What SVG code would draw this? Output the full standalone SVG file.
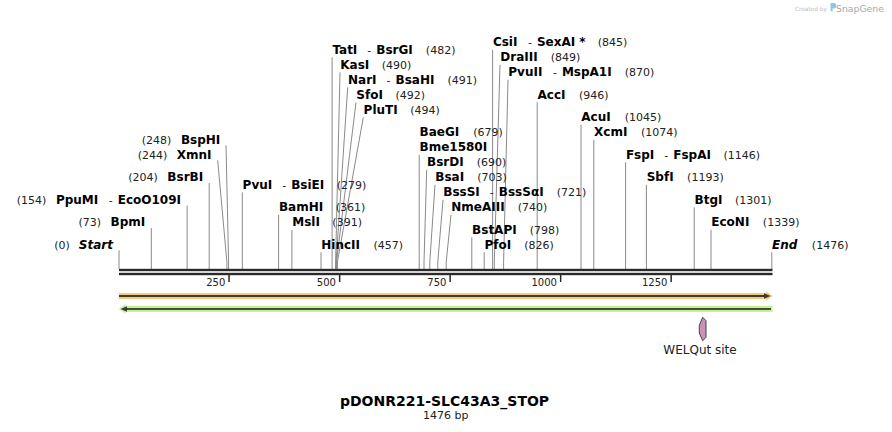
<svg xmlns="http://www.w3.org/2000/svg" width="892" height="432" viewBox="0 0 892 432">
<style>
.b{font-family:"DejaVu Sans",Verdana,sans-serif;font-weight:bold;font-size:12px;fill:#000}
.bi{font-family:"DejaVu Sans",Verdana,sans-serif;font-weight:bold;font-style:italic;font-size:12px;fill:#000}
.n{font-family:"DejaVu Sans",Verdana,sans-serif;font-weight:normal;font-size:11px;fill:#222}
.tk{font-family:"DejaVu Sans",Verdana,sans-serif;font-size:10px;fill:#222}
.ln{stroke:#8a8a8a;stroke-width:1;fill:none}
.dk{fill:#2a2a2a}
</style>
<rect width="892" height="432" fill="#fff"/>

<g id="watermark">
<text x="795" y="11" font-family="DejaVu Sans,sans-serif" font-size="5.8" fill="#bdbdbd">Created by</text>
<path d="M830.5,3 h3 a2.6,2.6 0 0 1 0,5.5 h-1 v3.5 l-2,-1.5 z" fill="#8ec3ea"/>
<text x="836" y="11.5" font-family="DejaVu Sans,sans-serif" font-size="9.3" fill="#a8a8a8">SnapGene</text>
</g>

<g id="connectors">
<polyline class="ln" points="119,250.3 119,269"/>
<polyline class="ln" points="151.3,228 151.3,269"/>
<polyline class="ln" points="187.1,205.5 187.1,269"/>
<polyline class="ln" points="209.2,183 209.2,269"/>
<polyline class="ln" points="217.7,160.3 226.9,262 226.9,269"/>
<polyline class="ln" points="226,145.3 228.6,262 228.6,269"/>
<polyline class="ln" points="242.3,192.3 242.3,269"/>
<polyline class="ln" points="278.6,214.8 278.6,269"/>
<polyline class="ln" points="291.9,229.8 291.9,269"/>
<polyline class="ln" points="321,252.3 321,269"/>
<polyline class="ln" points="332.1,57.3 332.1,269"/>
<polyline class="ln" points="340,72.3 335.6,262 335.6,269"/>
<polyline class="ln" points="347.7,87.3 336.1,262 336.1,269"/>
<polyline class="ln" points="356,102.3 336.5,262 336.5,269"/>
<polyline class="ln" points="363.3,117.3 337.4,262 337.4,269"/>
<polyline class="ln" points="419.2,154.8 419.2,269"/>
<polyline class="ln" points="426.7,169.8 424,262 424,269"/>
<polyline class="ln" points="435,184.8 429.8,262 429.8,269"/>
<polyline class="ln" points="443,199.8 437.8,262 437.8,269"/>
<polyline class="ln" points="451,214.8 446.2,262 446.2,269"/>
<polyline class="ln" points="471.8,237.3 471.8,269"/>
<polyline class="ln" points="484.2,252.3 484.2,269"/>
<polyline class="ln" points="492.6,49.8 492.6,269"/>
<polyline class="ln" points="500,64.8 494.3,262 494.3,269"/>
<polyline class="ln" points="508,79.8 503.6,262 503.6,269"/>
<polyline class="ln" points="537.2,102.3 537.2,269"/>
<polyline class="ln" points="581,124.8 581,269"/>
<polyline class="ln" points="593.8,139.8 593.8,269"/>
<polyline class="ln" points="625.6,162.3 625.6,269"/>
<polyline class="ln" points="646.4,184.8 646.4,269"/>
<polyline class="ln" points="694.2,207.3 694.2,269"/>
<polyline class="ln" points="711,229.8 711,269"/>
<polyline class="ln" points="771.8,252.3 771.8,269"/>
</g>

<g id="ruler">
<rect class="dk" x="119" y="268.8" width="653.5" height="2.4"/>
<rect class="dk" x="119" y="272.8" width="653.5" height="2.4"/>
<rect class="dk" x="228.3" y="275" width="1.5" height="7"/>
<rect class="dk" x="338.9" y="275" width="1.5" height="7"/>
<rect class="dk" x="449.4" y="275" width="1.5" height="7"/>
<rect class="dk" x="559.9" y="275" width="1.5" height="7"/>
<rect class="dk" x="670.4" y="275" width="1.5" height="7"/>
<text class="tk" x="225.3" y="285.7" text-anchor="end">250</text>
<text class="tk" x="335.9" y="285.7" text-anchor="end">500</text>
<text class="tk" x="446.4" y="285.7" text-anchor="end">750</text>
<text class="tk" x="556.9" y="285.7" text-anchor="end">1000</text>
<text class="tk" x="667.4" y="285.7" text-anchor="end">1250</text>
</g>

<g id="feature-forward">
<polygon points="119,293 766,293 766,291.3 772.7,296 766,300.7 766,299 119,299" fill="#f7c97c"/>
<rect class="dk" x="119" y="295.1" width="646" height="1.8" fill="#3a3a3a"/>
<polygon points="764,293.2 770.5,296 764,298.8" fill="#3a3a3a"/>
</g>

<g id="feature-reverse">
<polygon points="772.5,306 125.5,306 125.5,304.3 118.8,309 125.5,313.7 125.5,312 772.5,312" fill="#c4f28e"/>
<rect x="126.5" y="308.1" width="644.5" height="1.8" fill="#3a3a3a"/>
<polygon points="127,306.2 120.5,309 127,311.8" fill="#3a3a3a"/>
</g>

<g id="welqut-site">
<polygon points="702.7,317.3 706,320.7 706,337.3 702.7,340.7 699.3,333 699.3,325.3" fill="#c893b6" stroke="#444" stroke-width="1"/>
<text x="700" y="354.3" text-anchor="middle" font-family="DejaVu Sans,Verdana,sans-serif" font-size="12" fill="#222">WELQut site</text>
</g>

<g id="start"><text x="113" y="248.8" text-anchor="end"><tspan class="n">(0)</tspan><tspan class="bi" dx="9">Start</tspan></text></g>
<g id="BpmI"><text x="145.3" y="226.3" text-anchor="end"><tspan class="n">(73)</tspan><tspan class="b" dx="9.5">BpmI</tspan></text></g>
<g id="PpuMI"><text x="181" y="203.8" text-anchor="end"><tspan class="n">(154)</tspan><tspan class="b" dx="9.5">PpuMI</tspan><tspan class="n" dx="10.5">-</tspan><tspan class="b" dx="5">EcoO109I</tspan></text></g>
<g id="BsrBI"><text x="203.2" y="181.3" text-anchor="end"><tspan class="n">(204)</tspan><tspan class="b" dx="9.5">BsrBI</tspan></text></g>
<g id="XmnI"><text x="211.5" y="158.8" text-anchor="end"><tspan class="n">(244)</tspan><tspan class="b" dx="9.5">XmnI</tspan></text></g>
<g id="BspHI"><text x="220.3" y="143.8" text-anchor="end"><tspan class="n">(248)</tspan><tspan class="b" dx="9.5">BspHI</tspan></text></g>

<g id="PvuI"><text x="242.6" y="188.8"><tspan class="b">PvuI</tspan><tspan class="n" dx="10">-</tspan><tspan class="b" dx="5">BsiEI</tspan><tspan class="n" dx="12.5">(279)</tspan></text></g>
<g id="BamHI"><text x="278.9" y="211.3"><tspan class="b">BamHI</tspan><tspan class="n" dx="12.5">(361)</tspan></text></g>
<g id="MslI"><text x="292.2" y="226.3"><tspan class="b">MslI</tspan><tspan class="n" dx="12.5">(391)</tspan></text></g>
<g id="HincII"><text x="321.3" y="248.8"><tspan class="b">HincII</tspan><tspan class="n" dx="13.5">(457)</tspan></text></g>
<g id="TatI"><text x="332.4" y="53.8"><tspan class="b">TatI</tspan><tspan class="n" dx="10">-</tspan><tspan class="b" dx="5">BsrGI</tspan><tspan class="n" dx="13">(482)</tspan></text></g>
<g id="KasI"><text x="340.3" y="68.8"><tspan class="b">KasI</tspan><tspan class="n" dx="12.5">(490)</tspan></text></g>
<g id="NarI"><text x="348" y="83.8"><tspan class="b">NarI</tspan><tspan class="n" dx="10">-</tspan><tspan class="b" dx="5">BsaHI</tspan><tspan class="n" dx="13">(491)</tspan></text></g>
<g id="SfoI"><text x="356.3" y="98.8"><tspan class="b">SfoI</tspan><tspan class="n" dx="12.5">(492)</tspan></text></g>
<g id="PluTI"><text x="363.6" y="113.8"><tspan class="b">PluTI</tspan><tspan class="n" dx="12.5">(494)</tspan></text></g>

<g id="BaeGI"><text x="419.5" y="136.3"><tspan class="b">BaeGI</tspan><tspan class="n" dx="14">(679)</tspan></text><text class="b" x="419.5" y="151.3">Bme1580I</text></g>
<g id="BsrDI"><text x="427" y="166.3"><tspan class="b">BsrDI</tspan><tspan class="n" dx="13">(690)</tspan></text></g>
<g id="BsaI"><text x="435.3" y="181.3"><tspan class="b">BsaI</tspan><tspan class="n" dx="13">(703)</tspan></text></g>
<g id="BssSI"><text x="443.3" y="196.3"><tspan class="b">BssSI</tspan><tspan class="n" dx="10">-</tspan><tspan class="b" dx="5">BssSαI</tspan><tspan class="n" dx="13">(721)</tspan></text></g>
<g id="NmeAIII"><text x="451.3" y="211.3"><tspan class="b">NmeAIII</tspan><tspan class="n" dx="13">(740)</tspan></text></g>
<g id="BstAPI"><text x="472.1" y="233.8"><tspan class="b">BstAPI</tspan><tspan class="n" dx="13">(798)</tspan></text></g>
<g id="PfoI"><text x="484.5" y="248.8"><tspan class="b">PfoI</tspan><tspan class="n" dx="13">(826)</tspan></text></g>

<g id="CsiI"><text x="492.9" y="46.3"><tspan class="b">CsiI</tspan><tspan class="n" dx="10.5">-</tspan><tspan class="b" dx="5">SexAI *</tspan><tspan class="n" dx="12">(845)</tspan></text></g>
<g id="DraIII"><text x="500.3" y="61.3"><tspan class="b">DraIII</tspan><tspan class="n" dx="13">(849)</tspan></text></g>
<g id="PvuII"><text x="508.3" y="76.3"><tspan class="b">PvuII</tspan><tspan class="n" dx="10.5">-</tspan><tspan class="b" dx="5">MspA1I</tspan><tspan class="n" dx="13">(870)</tspan></text></g>
<g id="AccI"><text x="537.5" y="98.8"><tspan class="b">AccI</tspan><tspan class="n" dx="13.5">(946)</tspan></text></g>
<g id="AcuI"><text x="581.3" y="121.3"><tspan class="b">AcuI</tspan><tspan class="n" dx="14">(1045)</tspan></text></g>
<g id="XcmI"><text x="594.1" y="136.3"><tspan class="b">XcmI</tspan><tspan class="n" dx="13.5">(1074)</tspan></text></g>
<g id="FspI"><text x="625.9" y="158.8"><tspan class="b">FspI</tspan><tspan class="n" dx="10">-</tspan><tspan class="b" dx="5">FspAI</tspan><tspan class="n" dx="12.5">(1146)</tspan></text></g>
<g id="SbfI"><text x="646.7" y="181.3"><tspan class="b">SbfI</tspan><tspan class="n" dx="13.5">(1193)</tspan></text></g>
<g id="BtgI"><text x="694.5" y="203.8"><tspan class="b">BtgI</tspan><tspan class="n" dx="12.5">(1301)</tspan></text></g>
<g id="EcoNI"><text x="711.3" y="226.3"><tspan class="b">EcoNI</tspan><tspan class="n" dx="13.5">(1339)</tspan></text></g>
<g id="end"><text x="772" y="248.8"><tspan class="bi">End</tspan><tspan class="n" dx="14.5">(1476)</tspan></text></g>

<g id="title">
<text x="444.5" y="405.7" text-anchor="middle" font-family="DejaVu Sans,Verdana,sans-serif" font-weight="bold" font-size="14" fill="#000">pDONR221-SLC43A3_STOP</text>
<text x="445.8" y="419" text-anchor="middle" font-family="DejaVu Sans,Verdana,sans-serif" font-size="11" fill="#222">1476 bp</text>
</g>
</svg>
